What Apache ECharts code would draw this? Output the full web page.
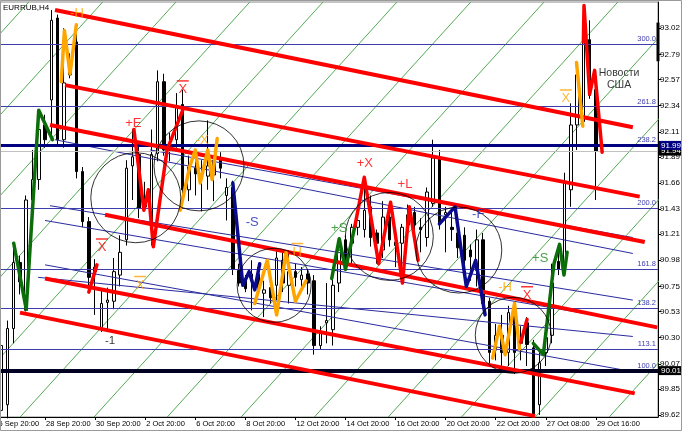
<!DOCTYPE html>
<html><head><meta charset="utf-8">
<script src="https://cdn.jsdelivr.net/npm/echarts@6/dist/echarts.min.js"></script>
<style>html,body{margin:0;padding:0;background:#fff}#c{width:682px;height:431px}</style>
</head><body><div id="c"></div>
<script>
// ---------- DATA ----------
const barOpen  = [89.66,89.71,90.38,90.96,90.54,91.51,91.69,92.17,92.39,93.11,92.04,92.61,92.90,91.76,91.32,90.88,90.39,90.61,90.62,90.85,91.16,91.81,91.91,91.45,91.27,91.92,92.55,91.95,92.04,92.35,91.60,91.79,91.71,91.72,91.73,91.86,91.55,91.62,90.89,90.80,90.80,90.86,90.69,90.74,90.76,90.98,90.76,90.88,90.81,90.86,90.80,90.23,90.43,90.37,90.78,91.16,91.13,91.27,91.25,91.45,91.22,91.07,91.36,91.14,91.13,91.29,91.40,91.27,91.18,91.48,91.88,91.38,91.27,91.22,91.20,91.07,90.89,91.16,90.62,90.19,90.32,90.17,90.53,90.25,90.43,90.21,89.71,90.17,90.32,90.97,90.92,91.60,92.17,92.20,92.92,92.48];
const barClose = [90.23,90.38,90.96,90.79,91.51,91.69,92.13,92.04,93.09,92.04,92.54,92.67,91.76,91.32,90.83,90.92,90.60,90.63,90.88,91.05,91.79,91.89,91.44,91.47,91.91,92.55,91.95,91.99,92.33,91.60,91.80,91.74,91.73,91.81,91.86,91.79,91.62,90.90,90.78,90.73,90.86,90.75,90.72,90.65,91.00,90.78,90.88,90.83,90.85,90.78,90.23,90.35,90.45,90.76,91.07,90.97,91.27,91.33,91.42,91.18,91.13,91.36,91.16,91.11,91.27,91.38,91.29,91.25,91.58,91.88,91.31,91.40,91.25,91.09,90.98,91.01,91.16,90.60,90.17,90.32,90.17,90.52,90.17,90.27,90.24,89.63,90.08,90.30,90.78,90.90,91.66,92.17,92.61,92.92,92.43,91.94];
const barLow   = [89.59,89.59,90.25,90.68,90.53,91.45,91.60,91.97,92.04,91.99,91.97,92.58,91.70,91.27,90.70,90.50,90.35,90.35,90.55,90.75,91.11,91.51,91.35,91.42,91.11,91.85,91.90,91.85,91.97,91.55,91.50,91.55,91.41,91.60,91.50,91.70,91.33,90.85,90.75,90.70,90.54,90.70,90.48,90.60,90.63,90.70,90.60,90.75,90.70,90.68,90.15,90.20,90.25,90.23,90.70,90.90,90.95,91.20,91.18,91.10,90.95,91.00,91.10,90.92,90.78,91.20,91.20,91.05,91.10,91.45,91.25,91.05,91.15,91.00,90.85,90.80,90.75,90.55,90.05,90.10,90.05,90.05,89.98,90.10,90.05,89.60,89.62,90.05,90.25,90.85,90.85,91.45,91.95,92.15,92.40,91.51];
const barHigh  = [90.32,90.45,91.10,91.02,91.55,91.95,92.30,92.26,93.18,93.14,93.02,92.80,93.02,91.80,91.36,90.99,90.73,90.74,91.00,91.20,91.86,92.13,92.00,91.67,92.13,92.65,92.62,92.10,92.45,92.48,91.90,91.85,91.86,92.21,91.90,91.93,91.70,91.68,90.95,90.85,90.98,90.92,90.80,90.80,91.09,91.05,91.07,90.95,90.92,90.90,90.85,90.40,90.78,90.81,91.11,91.20,91.30,91.38,91.71,91.55,91.25,91.50,91.49,91.25,91.30,91.47,91.45,91.35,91.62,92.04,91.95,91.45,91.42,91.35,91.27,91.12,91.25,91.22,90.65,90.42,90.50,90.58,90.57,90.40,90.48,90.28,90.20,90.40,90.95,91.13,91.75,92.36,92.70,93.18,93.09,92.63];

const timeTickBars = [7,15,23,31,39,47,55,63,71,79,87,95];
const timeLabels = ["28 Sep 20:00","30 Sep 20:00","2 Oct 20:00","6 Oct 20:00","8 Oct 20:00","12 Oct 20:00","14 Oct 20:00","16 Oct 20:00","20 Oct 20:00","22 Oct 20:00","27 Oct 08:00","29 Oct 16:00"];
const firstTimeLabel = "25 Sep 20:00";
const priceTicks = [89.62,89.85,90.07,90.30,90.53,90.75,90.98,91.21,91.43,91.66,91.89,92.11,92.34,92.57,92.79,93.02];

const fibNames  = ["100.0","113.1","138.2","161.8","200.0","238.2","261.8","300.0"];
const fibPrices = [90.01,90.20,90.56,90.90,91.44,91.99,92.33,92.88];
const levelLine = 91.99, baseLine = 90.01, bidPrice = 91.94;

const redChannel = [
  [[8.6,93.18],[100.9,92.15]],
  [[10.2,92.52],[102.0,91.54]],
  [[7.8,92.17],[102.8,91.14]],
  [[16.6,91.38],[104.8,90.39]],
  [[7.0,90.82],[101.2,89.81]],
  [[3.0,90.52],[85.3,89.61]]
];
const blueChannel = [
  [[8.6,92.04],[100.9,91.04]],
  [[23.8,91.95],[100.9,91.18]],
  [[7.0,91.33],[100.9,90.44]],
  [[5.9,90.83],[100.9,90.31]],
  [[7.0,90.94],[100.9,90.00]],
  [[7.8,91.46],[100.9,90.63]]
];
const gridBottomBars = [-55.8,-44.0,-32.3,-20.5,-8.8,3.0,14.8,26.5,38.3,50.0,61.8,73.5,85.3,97.1];
const gridTopBars    = [4.4,16.2,27.9,39.7,51.4,63.2,75.0,86.7,98.5,110.2,122.0,133.7,145.5,157.3];
const gridLowPrice = 89.60, gridHighPrice = 93.25;

const zigGreen = [
  [[2,91.13],[4,90.55],[6,92.30],[8.2,92.04]],
  [[52.8,90.82],[54.0,91.17],[55.0,90.90],[56.5,91.28]],
  [[85,90.25],[86.6,90.15],[88.3,90.95],[89.2,91.12],[89.9,90.85],[90.4,91.05]]
];
const zigOrange = [
  [[9.6,92.55],[10.1,93.00],[11.0,92.62],[12.0,93.05]],
  [[28.6,91.42],[30.1,91.80],[31.0,91.95],[31.8,91.66],[33.0,91.95],[33.7,91.69],[34.5,92.05]],
  [[40.5,90.60],[42.5,90.98],[44.0,90.50],[45.5,91.05],[47.0,90.62],[48.7,90.80]],
  [[78.5,90.12],[79.6,90.40],[80.5,90.15],[82.0,90.60],[82.8,90.20]],
  [[91.9,92.72],[92.9,92.16]]
];
const zigRed = [
  [[14.0,90.70],[15.3,90.94]],
  [[21.2,92.13],[22.8,91.42],[23.5,91.60],[24.3,91.10],[26.5,91.95],[29.0,92.30]],
  [[56.5,91.28],[58.0,91.71],[60.3,90.95],[62.2,91.49],[64.1,90.78],[65.2,91.45],[66.6,90.98]],
  [[83.0,90.26],[84.0,90.46]],
  [[93.0,92.90],[93.1,93.22],[94.0,92.44],[94.8,92.65],[96.0,91.93]]
];
const zigBlue = [
  [[37.0,91.66],[38.6,90.76],[39.6,90.88],[40.5,90.72],[41.3,90.95]],
  [[70.0,91.30],[72.5,91.45],[74.3,90.75],[75.8,90.98],[77.3,90.50]]
];

const circleBars   = [21.5,31.6,43.6,62.0,73.1,81.8];
const circlePrices = [91.53,91.81,90.76,91.19,91.07,90.32];
const circleRadius = [45,45,37,44,43,38];

const tagTexts  = ["-H","+E","X","-X","X","X","-1","-S","H","+S","+X","+L","-F","-H","X","+S","X","Новости\nСША"];
const tagBars   = [12.1,21.1,29.0,32.1,16.1,22.2,17.4,40.1,47.3,54.0,58.1,64.5,76.2,80.5,84.0,86.1,90.2,98.7];
const tagPrices = [93.15,92.18,92.50,92.03,91.11,90.78,90.27,91.31,91.07,91.26,91.83,91.65,91.38,90.74,90.69,91.00,92.42,92.57];
const tagKinds  = ["o","r","r","o","r","o","k","b","o","g","r","r","b","o","r","g","o","k"];
const tagOver   = [0,0,1,0,1,1,0,0,1,0,0,0,0,0,1,0,1,0];

const axisMarkTop = 93.07, axisMarkBottom = 92.73;

// ---------- CHART ----------
const FONT = "'Liberation Sans',Arial,sans-serif";
const TAGFONT = "'Liberation Sans',Arial,sans-serif";
const COL = {o:'#ffa500', r:'#ff0000', g:'#1f8a1f', b:'#1a28b0', k:'#000000'};
const XMIN = -0.19, XMAX = 104.92;

const chart = echarts.init(document.getElementById('c'), null, {renderer:'canvas'});

const series = [];

gridBottomBars.forEach((b, i) => {
  series.push({type:'line', silent:true, symbol:'none', animation:false, z:1,
    data:[[b, gridLowPrice],[gridTopBars[i], gridHighPrice]],
    lineStyle:{color:'#3f9f3f', width:0.9}});
});

series.push({
  type:'candlestick', z:3, animation:false, silent:true, barWidth:3,
  encode:{x:0, y:[1,2,3,4]},
  data: barOpen.map((o,i)=>[i, o, barClose[i], barLow[i], barHigh[i]]),
  itemStyle:{color:'#ffffff', color0:'#000000', borderColor:'#000000', borderColor0:'#000000', borderWidth:1},
  markLine:{
    symbol:['none','none'], silent:true, animation:false, precision:2,
    data: [
      ...fibPrices.map((p,i)=>({yAxis:p, lineStyle:{color:'#3c3cae', width:1, type:'solid'},
        label:{show:true, position:'insideEndTop', formatter:fibNames[i], color:'#3c3cae', fontSize:7.5, fontFamily:FONT, distance:[2,1]}})),
      {yAxis:bidPrice, lineStyle:{color:'#c0c0c0', width:1, type:'solid'},
        label:{show:true, position:'end', formatter:bidPrice.toFixed(2), color:'#fff', backgroundColor:'#000', fontSize:8, fontFamily:FONT, padding:[1,2,0,2], distance:1}},
      {yAxis:levelLine, lineStyle:{color:'#000080', width:3, type:'solid'},
        label:{show:true, position:'end', formatter:levelLine.toFixed(2), color:'#fff', backgroundColor:'#000080', fontSize:8, fontFamily:FONT, padding:[1,2,0,2], distance:1}},
      {yAxis:baseLine, lineStyle:{color:'#000022', width:4, type:'solid'},
        label:{show:true, position:'end', formatter:baseLine.toFixed(2), color:'#fff', backgroundColor:'#000', fontSize:8, fontFamily:FONT, padding:[1,2,0,2], distance:1}}
    ]
  }
});

blueChannel.forEach(seg => series.push({type:'line', silent:true, symbol:'none', animation:false, z:4,
  data:seg, lineStyle:{color:'#2a2aa0', width:1}}));
redChannel.forEach(seg => series.push({type:'line', silent:true, symbol:'none', animation:false, z:5,
  data:seg, lineStyle:{color:'#ff0000', width:4}}));

const addZig = (arr, color, w) => arr.forEach(seg => series.push({type:'line', silent:true, symbol:'none', animation:false, z:6,
  data:seg, lineStyle:{color, width:w, join:'round', cap:'round'}}));
addZig(zigGreen, '#0b6e0b', 3.5);
addZig(zigOrange, '#ffa500', 3.5);
addZig(zigRed, '#ff0000', 3.5);
addZig(zigBlue, '#0a0a8c', 3.5);

series.push({type:'scatter', silent:true, animation:false, z:7,
  data: circleBars.map((b,i)=>[b, circlePrices[i], circleRadius[i]]),
  symbol:'circle', symbolSize:(v)=>v[2]*2,
  itemStyle:{color:'rgba(0,0,0,0)', borderColor:'#000', borderWidth:1}});

series.push({type:'line', silent:true, symbol:'none', animation:false, z:8, clip:false,
  data:[[XMAX, axisMarkTop],[XMAX, axisMarkBottom]], lineStyle:{color:'#000', width:3}});

series.push({type:'scatter', silent:true, animation:false, z:9, symbolSize:0,
  data: tagTexts.map((t,i)=>{
    const c = COL[tagKinds[i]];
    const isNews = t.indexOf('\n')>=0;
    const lab = tagOver[i] ? {
        show:true, position:'inside', formatter:'{o|}\n{t|'+t+'}',
        rich:{o:{width:12, height:1.5, backgroundColor:c, align:'center', lineHeight:4},
              t:{fontSize:13, color:c, fontFamily:TAGFONT, lineHeight:13, align:'center'}}
      } : {
        show:true, position:'inside', formatter:t, color:c,
        fontSize: isNews ? 10.5 : (t==='-1' ? 11.5 : 13), fontFamily:TAGFONT,
        lineHeight: isNews ? 12 : 14, align:'center'
      };
    return {value:[tagBars[i], tagPrices[i]], label:lab};
  })
});

chart.setOption({
  animation:false,
  backgroundColor:'#ffffff',
  grid:{left:0, right:24, top:2, bottom:14, show:true, borderColor:'#8a8a8a', borderWidth:1, containLabel:false, outerBoundsMode:'none'},
  xAxis:{type:'value', min:XMIN, max:XMAX, position:'bottom',
    axisLine:{show:true, onZero:false, lineStyle:{color:'#000', width:1}},
    axisTick:{show:true, customValues:timeTickBars, length:3, lineStyle:{color:'#000'}},
    axisLabel:{show:true, customValues:timeTickBars, align:'left', margin:3, padding:[0,0,0,1],
      showMinLabel:true, showMaxLabel:true, hideOverlap:false,
      formatter:(v)=>{const k=timeTickBars.indexOf(Math.round(v)); return k>=0?timeLabels[k]:'';},
      color:'#000', fontSize:7.5, fontFamily:FONT},
    splitLine:{show:false}},
  yAxis:{type:'value', min:89.602, max:93.251, position:'right', scale:true,
    axisLine:{show:true, onZero:false, lineStyle:{color:'#000', width:1}},
    axisTick:{show:true, customValues:priceTicks, length:3, lineStyle:{color:'#000'}},
    axisLabel:{show:true, customValues:priceTicks, margin:2, showMinLabel:true, showMaxLabel:true, hideOverlap:false,
      formatter:(v)=>v.toFixed(2), color:'#000', fontSize:8, fontFamily:FONT},
    splitLine:{show:false}},
  series
});

const x0 = chart.convertToPixel({xAxisIndex:0}, -1);
chart.setOption({
  graphic:[
    {type:'text', left:3, top:4, silent:true, z:100,
      style:{text:'EURRUB,H4', fill:'#000', font:"8px "+FONT}},
    {type:'text', x:x0-0.5, y:420, silent:true, z:100,
      style:{text:firstTimeLabel, fill:'#000', font:"7.5px "+FONT}},
    {type:'rect', shape:{x:0.5, y:0.5, width:681, height:430}, silent:true, z:100,
      style:{fill:'none', stroke:'#9a9a9a', lineWidth:1}}
  ]
});
</script></body></html>
